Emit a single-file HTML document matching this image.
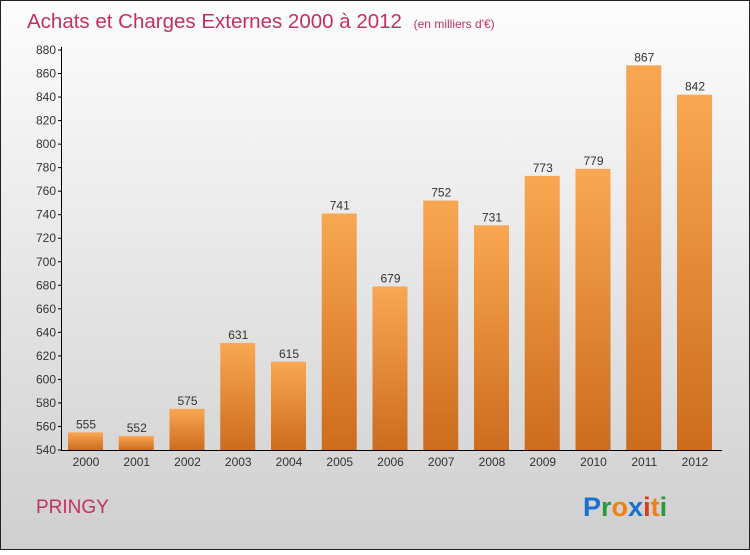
<!DOCTYPE html>
<html><head><meta charset="utf-8"><style>
body{margin:0;width:750px;height:550px;overflow:hidden;font-family:"Liberation Sans",sans-serif}
</style></head><body>
<svg id="c" width="750" height="550" xmlns="http://www.w3.org/2000/svg">
<defs>
<linearGradient id="bg" x1="0" y1="0" x2="0" y2="1"><stop offset="0" stop-color="#fdfdfd"/><stop offset="1" stop-color="#cfcfcf"/></linearGradient>
<linearGradient id="bar" x1="0" y1="0" x2="0" y2="1"><stop offset="0" stop-color="#f9a752"/><stop offset="1" stop-color="#cc6c1e"/></linearGradient>
</defs>
<rect x="0.5" y="0.5" width="749" height="549" fill="url(#bg)" stroke="#222"/>
<text x="27" y="28" font-size="20.5" fill="#c4305f">Achats et Charges Externes 2000 à 2012 <tspan font-size="12" dx="6">(en milliers d'€)</tspan></text>
<g id="plot"></g>
<text x="36" y="513" font-size="19" fill="#c4305f">PRINGY</text>
<text x="583" y="516" font-size="27" font-weight="bold"><tspan fill="#1a6fcf">P</tspan><tspan fill="#2a9a3a">r</tspan><tspan fill="#f08010">o</tspan><tspan fill="#1a6fcf">x</tspan><tspan fill="#e03a1a">i</tspan><tspan fill="#f08010">t</tspan><tspan fill="#2a9a3a">i</tspan></text>
</svg>
<script>
const years=["2000","2001","2002","2003","2004","2005","2006","2007","2008","2009","2010","2011","2012"];
const values=[555,552,575,631,615,741,679,752,731,773,779,867,842];
const ticks=[540,560,580,600,620,640,660,680,700,720,740,760,780,800,820,840,860,880];
const ns="http://www.w3.org/2000/svg";
const g=document.getElementById('plot');
const y0=450,y1=50,vmin=540,vmax=880;
const y=v=>y0-(v-vmin)*(y0-y1)/(vmax-vmin);
const x=i=>86+i*50.75;
function el(t,a,txt){const e=document.createElementNS(ns,t);for(const k in a)e.setAttribute(k,a[k]);if(txt!=null)e.textContent=txt;g.appendChild(e);return e;}
values.forEach((v,i)=>{
 const r=el('rect',{x:x(i)-18,y:y(v),width:35,height:y0-y(v),fill:'url(#bar)'});
 
 
 const t=el('text',{x:x(i),y:y(v)-4,'font-size':12,fill:'#333','text-anchor':'middle'},v);
 
 
 const xl=el('text',{x:x(i),y:466,'font-size':12,fill:'#333','text-anchor':'middle'},years[i]);
 
 
});
ticks.forEach(v=>{
 const l=el('line',{x1:58,x2:62,y1:y(v),y2:y(v),stroke:'#000'});
 
 
 const t=el('text',{x:56,y:y(v)+4,'font-size':12,fill:'#333','text-anchor':'end'},v);
 
 
});
const ya=el('line',{x1:61.5,x2:61.5,y1:47,y2:450,stroke:'#000'});


const xa=el('line',{x1:61,x2:722,y1:450.5,y2:450.5,stroke:'#000'});


</script>
</body></html>
